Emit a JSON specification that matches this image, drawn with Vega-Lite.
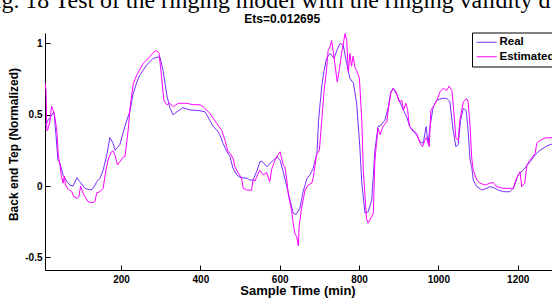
{
  "$schema": "https://vega.github.io/schema/vega-lite/v6.json",
  "width": 509,
  "height": 237,
  "autosize": {"type": "none"},
  "padding": {"left": 45, "top": 33, "right": 0, "bottom": 28},
  "background": "white",
  "config": {
    "view": {"stroke": null},
    "font": "Liberation Sans",
    "axis": {"labelFont": "Liberation Sans", "titleFont": "Liberation Sans", "grid": false}
  },
  "title": {
    "text": "Fig. 18 Test of the ringing model with the ringing validity d",
    "font": "Liberation Serif",
    "fontSize": 23.85,
    "fontWeight": "normal",
    "color": "black",
    "anchor": "start",
    "frame": "group",
    "baseline": "alphabetic",
    "offset": 0,
    "dx": -63.4,
    "dy": 19.3
  },
  "data": {
    "values": [
      {"t":8,"v":0.42,"s":"Real"},{"t":16,"v":0.46,"s":"Real"},{"t":31,"v":0.52,"s":"Real"},{"t":36,"v":0.36,"s":"Real"},{"t":41,"v":0.18,"s":"Real"},{"t":46,"v":0.16,"s":"Real"},{"t":54,"v":0.077,"s":"Real"},{"t":64,"v":0.03,"s":"Real"},{"t":71,"v":0.007,"s":"Real"},{"t":79,"v":0.0,"s":"Real"},{"t":89,"v":0.058,"s":"Real"},{"t":96,"v":0.03,"s":"Real"},{"t":109,"v":-0.016,"s":"Real"},{"t":122,"v":-0.028,"s":"Real"},{"t":129,"v":-0.02,"s":"Real"},{"t":139,"v":0.03,"s":"Real"},{"t":147,"v":0.054,"s":"Real"},{"t":155,"v":0.11,"s":"Real"},{"t":165,"v":0.23,"s":"Real"},{"t":172,"v":0.34,"s":"Real"},{"t":180,"v":0.3,"s":"Real"},{"t":185,"v":0.25,"s":"Real"},{"t":197,"v":0.29,"s":"Real"},{"t":210,"v":0.42,"s":"Real"},{"t":223,"v":0.53,"s":"Real"},{"t":230,"v":0.64,"s":"Real"},{"t":240,"v":0.73,"s":"Real"},{"t":248,"v":0.78,"s":"Real"},{"t":265,"v":0.85,"s":"Real"},{"t":281,"v":0.895,"s":"Real"},{"t":298,"v":0.907,"s":"Real"},{"t":306,"v":0.81,"s":"Real"},{"t":316,"v":0.63,"s":"Real"},{"t":323,"v":0.55,"s":"Real"},{"t":331,"v":0.5,"s":"Real"},{"t":341,"v":0.52,"s":"Real"},{"t":356,"v":0.55,"s":"Real"},{"t":374,"v":0.533,"s":"Real"},{"t":399,"v":0.528,"s":"Real"},{"t":412,"v":0.52,"s":"Real"},{"t":424,"v":0.46,"s":"Real"},{"t":432,"v":0.42,"s":"Real"},{"t":442,"v":0.39,"s":"Real"},{"t":449,"v":0.36,"s":"Real"},{"t":457,"v":0.3,"s":"Real"},{"t":467,"v":0.24,"s":"Real"},{"t":475,"v":0.205,"s":"Real"},{"t":482,"v":0.126,"s":"Real"},{"t":492,"v":0.077,"s":"Real"},{"t":500,"v":0.06,"s":"Real"},{"t":518,"v":0.054,"s":"Real"},{"t":525,"v":0.042,"s":"Real"},{"t":533,"v":0.042,"s":"Real"},{"t":543,"v":0.11,"s":"Real"},{"t":550,"v":0.17,"s":"Real"},{"t":555,"v":0.175,"s":"Real"},{"t":568,"v":0.135,"s":"Real"},{"t":576,"v":0.16,"s":"Real"},{"t":593,"v":0.205,"s":"Real"},{"t":601,"v":0.18,"s":"Real"},{"t":608,"v":0.11,"s":"Real"},{"t":618,"v":-0.005,"s":"Real"},{"t":626,"v":-0.1,"s":"Real"},{"t":634,"v":-0.19,"s":"Real"},{"t":641,"v":-0.2,"s":"Real"},{"t":651,"v":-0.157,"s":"Real"},{"t":659,"v":-0.04,"s":"Real"},{"t":669,"v":0.054,"s":"Real"},{"t":676,"v":0.077,"s":"Real"},{"t":684,"v":0.12,"s":"Real"},{"t":694,"v":0.23,"s":"Real"},{"t":698,"v":0.46,"s":"Real"},{"t":706,"v":0.7,"s":"Real"},{"t":712,"v":0.81,"s":"Real"},{"t":718,"v":0.895,"s":"Real"},{"t":727,"v":0.93,"s":"Real"},{"t":737,"v":0.895,"s":"Real"},{"t":744,"v":0.95,"s":"Real"},{"t":752,"v":1.0,"s":"Real"},{"t":760,"v":0.99,"s":"Real"},{"t":769,"v":0.86,"s":"Real"},{"t":777,"v":0.755,"s":"Real"},{"t":786,"v":0.72,"s":"Real"},{"t":794,"v":0.58,"s":"Real"},{"t":802,"v":0.276,"s":"Real"},{"t":807,"v":0.02,"s":"Real"},{"t":815,"v":-0.19,"s":"Real"},{"t":823,"v":-0.18,"s":"Real"},{"t":832,"v":-0.1,"s":"Real"},{"t":840,"v":0.25,"s":"Real"},{"t":848,"v":0.42,"s":"Real"},{"t":853,"v":0.42,"s":"Real"},{"t":865,"v":0.46,"s":"Real"},{"t":874,"v":0.556,"s":"Real"},{"t":880,"v":0.66,"s":"Real"},{"t":886,"v":0.685,"s":"Real"},{"t":895,"v":0.64,"s":"Real"},{"t":903,"v":0.59,"s":"Real"},{"t":912,"v":0.53,"s":"Real"},{"t":920,"v":0.486,"s":"Real"},{"t":928,"v":0.416,"s":"Real"},{"t":937,"v":0.38,"s":"Real"},{"t":945,"v":0.36,"s":"Real"},{"t":954,"v":0.31,"s":"Real"},{"t":962,"v":0.3,"s":"Real"},{"t":969,"v":0.416,"s":"Real"},{"t":974,"v":0.3,"s":"Real"},{"t":979,"v":0.416,"s":"Real"},{"t":987,"v":0.556,"s":"Real"},{"t":996,"v":0.6,"s":"Real"},{"t":1004,"v":0.61,"s":"Real"},{"t":1012,"v":0.615,"s":"Real"},{"t":1021,"v":0.615,"s":"Real"},{"t":1029,"v":0.59,"s":"Real"},{"t":1036,"v":0.416,"s":"Real"},{"t":1044,"v":0.276,"s":"Real"},{"t":1050,"v":0.29,"s":"Real"},{"t":1056,"v":0.46,"s":"Real"},{"t":1063,"v":0.545,"s":"Real"},{"t":1070,"v":0.53,"s":"Real"},{"t":1075,"v":0.39,"s":"Real"},{"t":1080,"v":0.18,"s":"Real"},{"t":1084,"v":0.135,"s":"Real"},{"t":1088,"v":0.042,"s":"Real"},{"t":1097,"v":-0.005,"s":"Real"},{"t":1109,"v":-0.028,"s":"Real"},{"t":1118,"v":-0.02,"s":"Real"},{"t":1130,"v":-0.005,"s":"Real"},{"t":1138,"v":-0.01,"s":"Real"},{"t":1151,"v":-0.028,"s":"Real"},{"t":1164,"v":-0.04,"s":"Real"},{"t":1180,"v":-0.04,"s":"Real"},{"t":1189,"v":-0.016,"s":"Real"},{"t":1201,"v":0.077,"s":"Real"},{"t":1214,"v":0.112,"s":"Real"},{"t":1231,"v":0.17,"s":"Real"},{"t":1248,"v":0.23,"s":"Real"},{"t":1256,"v":0.25,"s":"Real"},{"t":1273,"v":0.28,"s":"Real"},{"t":1291,"v":0.3,"s":"Real"},
      {"t":8,"v":0.73,"s":"Estimated"},{"t":11,"v":0.67,"s":"Estimated"},{"t":13,"v":0.39,"s":"Estimated"},{"t":15,"v":0.39,"s":"Estimated"},{"t":21,"v":0.46,"s":"Estimated"},{"t":25,"v":0.56,"s":"Estimated"},{"t":29,"v":0.53,"s":"Estimated"},{"t":33,"v":0.49,"s":"Estimated"},{"t":38,"v":0.39,"s":"Estimated"},{"t":42,"v":0.22,"s":"Estimated"},{"t":46,"v":0.147,"s":"Estimated"},{"t":50,"v":0.065,"s":"Estimated"},{"t":54,"v":0.02,"s":"Estimated"},{"t":57,"v":0.07,"s":"Estimated"},{"t":60,"v":0.007,"s":"Estimated"},{"t":67,"v":-0.023,"s":"Estimated"},{"t":76,"v":-0.04,"s":"Estimated"},{"t":81,"v":-0.075,"s":"Estimated"},{"t":90,"v":-0.087,"s":"Estimated"},{"t":94,"v":-0.075,"s":"Estimated"},{"t":98,"v":0.0,"s":"Estimated"},{"t":103,"v":-0.04,"s":"Estimated"},{"t":109,"v":-0.075,"s":"Estimated"},{"t":117,"v":-0.11,"s":"Estimated"},{"t":126,"v":-0.117,"s":"Estimated"},{"t":134,"v":-0.11,"s":"Estimated"},{"t":139,"v":-0.047,"s":"Estimated"},{"t":147,"v":-0.04,"s":"Estimated"},{"t":155,"v":-0.016,"s":"Estimated"},{"t":162,"v":0.112,"s":"Estimated"},{"t":168,"v":0.19,"s":"Estimated"},{"t":176,"v":0.24,"s":"Estimated"},{"t":180,"v":0.245,"s":"Estimated"},{"t":185,"v":0.217,"s":"Estimated"},{"t":191,"v":0.147,"s":"Estimated"},{"t":197,"v":0.17,"s":"Estimated"},{"t":206,"v":0.205,"s":"Estimated"},{"t":210,"v":0.205,"s":"Estimated"},{"t":218,"v":0.39,"s":"Estimated"},{"t":223,"v":0.556,"s":"Estimated"},{"t":231,"v":0.72,"s":"Estimated"},{"t":240,"v":0.78,"s":"Estimated"},{"t":256,"v":0.86,"s":"Estimated"},{"t":273,"v":0.907,"s":"Estimated"},{"t":281,"v":0.935,"s":"Estimated"},{"t":290,"v":0.95,"s":"Estimated"},{"t":296,"v":0.93,"s":"Estimated"},{"t":302,"v":0.77,"s":"Estimated"},{"t":308,"v":0.6,"s":"Estimated"},{"t":315,"v":0.57,"s":"Estimated"},{"t":323,"v":0.58,"s":"Estimated"},{"t":332,"v":0.556,"s":"Estimated"},{"t":344,"v":0.58,"s":"Estimated"},{"t":366,"v":0.58,"s":"Estimated"},{"t":382,"v":0.57,"s":"Estimated"},{"t":399,"v":0.57,"s":"Estimated"},{"t":407,"v":0.556,"s":"Estimated"},{"t":424,"v":0.51,"s":"Estimated"},{"t":441,"v":0.44,"s":"Estimated"},{"t":454,"v":0.39,"s":"Estimated"},{"t":462,"v":0.32,"s":"Estimated"},{"t":470,"v":0.24,"s":"Estimated"},{"t":475,"v":0.23,"s":"Estimated"},{"t":483,"v":0.19,"s":"Estimated"},{"t":487,"v":0.135,"s":"Estimated"},{"t":496,"v":0.09,"s":"Estimated"},{"t":504,"v":0.054,"s":"Estimated"},{"t":508,"v":-0.016,"s":"Estimated"},{"t":517,"v":-0.028,"s":"Estimated"},{"t":529,"v":-0.03,"s":"Estimated"},{"t":533,"v":0.042,"s":"Estimated"},{"t":538,"v":0.035,"s":"Estimated"},{"t":542,"v":0.065,"s":"Estimated"},{"t":550,"v":0.11,"s":"Estimated"},{"t":559,"v":0.077,"s":"Estimated"},{"t":567,"v":0.095,"s":"Estimated"},{"t":575,"v":0.03,"s":"Estimated"},{"t":580,"v":0.12,"s":"Estimated"},{"t":588,"v":0.18,"s":"Estimated"},{"t":596,"v":0.22,"s":"Estimated"},{"t":601,"v":0.24,"s":"Estimated"},{"t":609,"v":0.147,"s":"Estimated"},{"t":613,"v":0.135,"s":"Estimated"},{"t":618,"v":0.042,"s":"Estimated"},{"t":622,"v":-0.063,"s":"Estimated"},{"t":630,"v":-0.17,"s":"Estimated"},{"t":634,"v":-0.26,"s":"Estimated"},{"t":638,"v":-0.33,"s":"Estimated"},{"t":643,"v":-0.356,"s":"Estimated"},{"t":647,"v":-0.42,"s":"Estimated"},{"t":649,"v":-0.285,"s":"Estimated"},{"t":655,"v":-0.157,"s":"Estimated"},{"t":664,"v":-0.028,"s":"Estimated"},{"t":672,"v":0.007,"s":"Estimated"},{"t":681,"v":0.02,"s":"Estimated"},{"t":685,"v":0.065,"s":"Estimated"},{"t":693,"v":0.22,"s":"Estimated"},{"t":700,"v":0.25,"s":"Estimated"},{"t":706,"v":0.46,"s":"Estimated"},{"t":712,"v":0.67,"s":"Estimated"},{"t":718,"v":0.81,"s":"Estimated"},{"t":722,"v":0.95,"s":"Estimated"},{"t":727,"v":0.977,"s":"Estimated"},{"t":731,"v":1.02,"s":"Estimated"},{"t":735,"v":0.94,"s":"Estimated"},{"t":739,"v":0.86,"s":"Estimated"},{"t":745,"v":0.73,"s":"Estimated"},{"t":750,"v":0.81,"s":"Estimated"},{"t":756,"v":0.93,"s":"Estimated"},{"t":765,"v":1.07,"s":"Estimated"},{"t":769,"v":1.02,"s":"Estimated"},{"t":773,"v":0.8,"s":"Estimated"},{"t":777,"v":0.93,"s":"Estimated"},{"t":781,"v":0.84,"s":"Estimated"},{"t":785,"v":0.91,"s":"Estimated"},{"t":790,"v":0.83,"s":"Estimated"},{"t":794,"v":0.81,"s":"Estimated"},{"t":801,"v":0.755,"s":"Estimated"},{"t":807,"v":0.46,"s":"Estimated"},{"t":811,"v":0.1,"s":"Estimated"},{"t":819,"v":-0.23,"s":"Estimated"},{"t":823,"v":-0.26,"s":"Estimated"},{"t":832,"v":-0.215,"s":"Estimated"},{"t":836,"v":-0.19,"s":"Estimated"},{"t":840,"v":0.18,"s":"Estimated"},{"t":844,"v":0.3,"s":"Estimated"},{"t":848,"v":0.405,"s":"Estimated"},{"t":853,"v":0.36,"s":"Estimated"},{"t":861,"v":0.42,"s":"Estimated"},{"t":870,"v":0.45,"s":"Estimated"},{"t":874,"v":0.54,"s":"Estimated"},{"t":880,"v":0.65,"s":"Estimated"},{"t":886,"v":0.685,"s":"Estimated"},{"t":891,"v":0.67,"s":"Estimated"},{"t":895,"v":0.65,"s":"Estimated"},{"t":901,"v":0.59,"s":"Estimated"},{"t":908,"v":0.6,"s":"Estimated"},{"t":912,"v":0.53,"s":"Estimated"},{"t":918,"v":0.58,"s":"Estimated"},{"t":922,"v":0.545,"s":"Estimated"},{"t":927,"v":0.42,"s":"Estimated"},{"t":937,"v":0.39,"s":"Estimated"},{"t":945,"v":0.37,"s":"Estimated"},{"t":954,"v":0.3,"s":"Estimated"},{"t":960,"v":0.276,"s":"Estimated"},{"t":966,"v":0.32,"s":"Estimated"},{"t":970,"v":0.34,"s":"Estimated"},{"t":977,"v":0.276,"s":"Estimated"},{"t":981,"v":0.53,"s":"Estimated"},{"t":987,"v":0.556,"s":"Estimated"},{"t":996,"v":0.6,"s":"Estimated"},{"t":1004,"v":0.66,"s":"Estimated"},{"t":1012,"v":0.685,"s":"Estimated"},{"t":1021,"v":0.67,"s":"Estimated"},{"t":1027,"v":0.7,"s":"Estimated"},{"t":1034,"v":0.67,"s":"Estimated"},{"t":1038,"v":0.556,"s":"Estimated"},{"t":1044,"v":0.34,"s":"Estimated"},{"t":1050,"v":0.32,"s":"Estimated"},{"t":1054,"v":0.46,"s":"Estimated"},{"t":1063,"v":0.59,"s":"Estimated"},{"t":1071,"v":0.615,"s":"Estimated"},{"t":1075,"v":0.59,"s":"Estimated"},{"t":1080,"v":0.42,"s":"Estimated"},{"t":1084,"v":0.2,"s":"Estimated"},{"t":1088,"v":0.11,"s":"Estimated"},{"t":1097,"v":0.042,"s":"Estimated"},{"t":1105,"v":0.02,"s":"Estimated"},{"t":1118,"v":0.007,"s":"Estimated"},{"t":1130,"v":0.02,"s":"Estimated"},{"t":1138,"v":0.025,"s":"Estimated"},{"t":1147,"v":-0.005,"s":"Estimated"},{"t":1163,"v":-0.016,"s":"Estimated"},{"t":1189,"v":-0.016,"s":"Estimated"},{"t":1197,"v":0.054,"s":"Estimated"},{"t":1206,"v":0.1,"s":"Estimated"},{"t":1210,"v":-0.005,"s":"Estimated"},{"t":1218,"v":0.02,"s":"Estimated"},{"t":1223,"v":0.147,"s":"Estimated"},{"t":1231,"v":0.18,"s":"Estimated"},{"t":1244,"v":0.23,"s":"Estimated"},{"t":1248,"v":0.3,"s":"Estimated"},{"t":1256,"v":0.32,"s":"Estimated"},{"t":1269,"v":0.337,"s":"Estimated"},{"t":1291,"v":0.34,"s":"Estimated"}
    ]
  },
  "encoding": {
    "y": {
      "field": "v",
      "type": "quantitative",
      "scale": {"domain": [-0.589, 1.073], "nice": false, "zero": false},
      "axis": {
        "title": "Back end Tep (Normalized)",
        "values": [-0.5, 0, 0.5, 1],
        "labelExpr": "'' + datum.value",
        "tickSize": -5,
        "labelPadding": 8,
        "labelFontSize": 10,
        "labelFontWeight": "bold",
        "labelColor": "black",
        "domainColor": "black",
        "tickColor": "black",
        "titleFontSize": 12,
        "titleFontWeight": "bold",
        "titleColor": "black",
        "titleX": -32,
        "titleY": 111,
        "titleAngle": -90,
        "titleAlign": "center",
        "titleBaseline": "middle"
      }
    },
    "color": {
      "field": "s",
      "type": "nominal",
      "sort": ["Real", "Estimated"],
      "scale": {"domain": ["Real", "Estimated"], "range": ["#7a2cff", "#ff00ff"]},
      "legend": {
        "orient": "none",
        "legendX": 427,
        "legendY": -0.5,
        "title": null,
        "symbolType": "M-1,0L3,0",
        "symbolSize": 100,
        "symbolStrokeWidth": 1,
        "labelFontSize": 11.5,
        "labelFontWeight": "bold",
        "labelColor": "black",
        "labelFont": "Liberation Sans",
        "labelOffset": 12,
        "strokeColor": "black",
        "fillColor": "white",
        "padding": 4,
        "rowPadding": 1.5
      }
    }
  },
  "layer": [
    {
      "transform": [{"filter": "datum.s === 'Real'"}],
      "mark": {"type": "line", "strokeWidth": 1, "clip": true},
      "encoding": {
        "x": {
          "field": "t",
          "type": "quantitative",
          "scale": {"domain": [8.4, 1291.5], "nice": false, "zero": false},
          "axis": {
            "orient": "bottom",
            "title": "Sample Time (min)",
            "values": [200, 400, 600, 800, 1000, 1200],
            "labelExpr": "'' + datum.value",
            "tickSize": -5,
            "labelPadding": 9,
            "labelFontSize": 10,
            "labelFontWeight": "bold",
            "labelColor": "black",
            "labelFlush": false,
            "domainColor": "black",
            "tickColor": "black",
            "titleFontSize": 13,
            "titleFontWeight": "bold",
            "titleColor": "black",
            "titleX": 252.5,
            "titleY": 14,
            "titleAlign": "center",
            "titleBaseline": "top"
          }
        }
      }
    },
    {
      "transform": [{"filter": "datum.s === 'Estimated'"}],
      "mark": {"type": "line", "strokeWidth": 1, "clip": true},
      "encoding": {
        "x": {
          "field": "t",
          "type": "quantitative",
          "scale": {"domain": [8.4, 1291.5], "nice": false, "zero": false},
          "axis": {
            "orient": "top",
            "title": "Ets=0.012695",
            "labels": false,
            "ticks": false,
            "domain": false,
            "titleFontSize": 12,
            "titleFontWeight": "bold",
            "titleColor": "black",
            "titleX": 236.7,
            "titleY": -10.3,
            "titleAlign": "center",
            "titleBaseline": "alphabetic"
          }
        }
      }
    }
  ],
  "resolve": {"axis": {"x": "independent"}}
}
